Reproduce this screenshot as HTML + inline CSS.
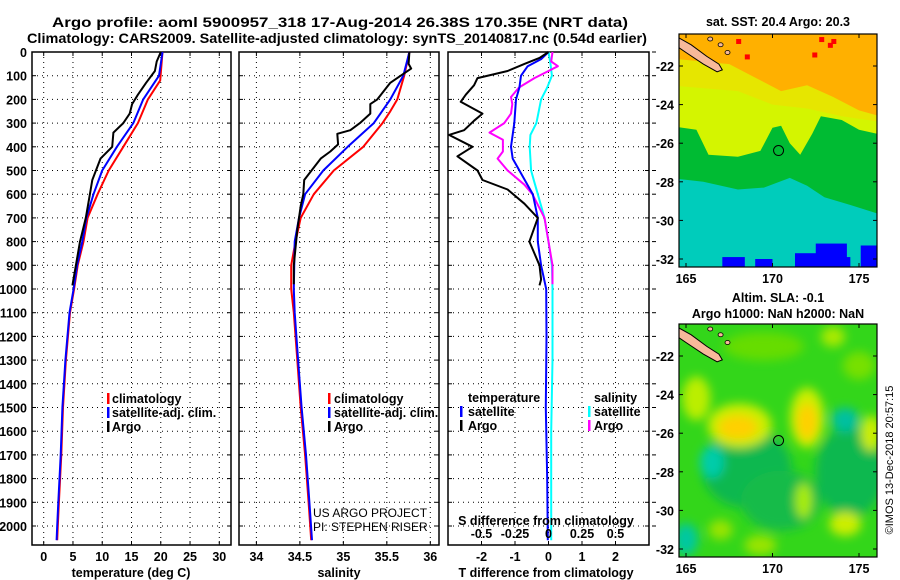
<!DOCTYPE html>
<html><head><meta charset="utf-8"><style>
html,body{margin:0;padding:0;background:#fff;}
svg{display:block;font-family:"Liberation Sans",sans-serif;font-weight:bold;}
</style></head><body>
<svg id="fig" width="900" height="580" viewBox="0 0 900 580" xmlns="http://www.w3.org/2000/svg">
<text x="52" y="27" font-size="13.5" textLength="576" lengthAdjust="spacingAndGlyphs">Argo profile: aoml 5900957_318 17-Aug-2014 26.38S 170.35E (NRT data)</text>
<text x="27" y="43" font-size="13.5" textLength="620" lengthAdjust="spacingAndGlyphs">Climatology: CARS2009. Satellite-adjusted climatology: synTS_20140817.nc (0.54d earlier)</text>
<g id="panels"></g>
<g id="maps"></g>
<text transform="translate(893,460) rotate(-90)" font-size="11" font-weight="normal" text-anchor="middle">©IMOS 13-Dec-2018 20:57:15</text>
</svg>
<script>
// depth axis
const depthTicks=[0,100,200,300,400,500,600,700,800,900,1000,1100,1200,1300,1400,1500,1600,1700,1800,1900,2000];
// temperature (deg C)
const tClimDepth=[0,120,200,300,400,500,600,700,800,900,1000,1100,1300,1500,1700,1900,2000,2060];
const tClim=[20.3,19.9,17.8,16.1,13.6,11.1,9.2,7.5,6.8,5.8,5.2,4.5,3.8,3.3,3.0,2.6,2.4,2.3];
const tSatDepth=[0,100,200,300,400,500,600,700,800,900,1000,1100,1300,1500,1700,1900,2000,2060];
const tSat=[20.3,19.7,17.0,15.3,12.5,10.0,8.5,7.3,6.6,5.7,5.1,4.4,3.7,3.2,2.9,2.5,2.3,2.2];
const tArgoDepth=[0,40,80,130,180,220,260,300,340,400,450,540,600,700,800,900,985];
const tArgo=[20.0,19.3,19.0,17.5,16.1,15.1,14.7,13.6,11.9,11.7,9.7,8.3,7.9,7.2,6.2,5.5,4.9];
// salinity
const sClimDepth=[0,100,200,250,300,400,500,600,700,800,900,1000,1100,1300,1500,1700,1900,2060];
const sClim=[35.76,35.70,35.62,35.54,35.45,35.23,34.89,34.66,34.51,34.45,34.40,34.40,34.43,34.47,34.51,34.56,34.60,34.63];
const sSatDepth=[0,100,200,300,400,500,600,700,800,1000,1100,1300,1500,1700,1900,2060];
const sSat=[35.76,35.69,35.54,35.35,35.05,34.77,34.56,34.49,34.44,34.43,34.44,34.48,34.52,34.57,34.61,34.64];
const sArgoDepth=[0,50,70,100,130,200,220,260,300,330,345,390,420,450,540,600,650,750,900,980];
const sArgo=[35.76,35.75,35.78,35.66,35.54,35.39,35.31,35.31,35.19,35.08,34.93,34.94,34.85,34.74,34.55,34.54,34.51,34.47,34.43,34.43];
// differences
const dTArgoDepth=[0,25,50,80,110,140,180,210,260,290,330,350,400,440,500,540,580,640,700,800,900,960,985];
const dTArgo=[0,-0.27,-0.72,-1.22,-2.12,-2.22,-2.47,-2.62,-1.97,-2.22,-2.52,-2.97,-2.27,-2.72,-2.12,-1.97,-1.22,-0.72,-0.32,-0.57,-0.27,-0.22,-0.27];
const dTSatDepth=[0,30,60,100,150,200,300,400,450,500,600,700,800,900,1000,1200,1500,1800,2060];
const dTSat=[0,-0.22,-0.62,-0.82,-0.87,-0.97,-1.02,-1.12,-1.07,-0.87,-0.47,-0.32,-0.32,-0.22,-0.07,-0.06,-0.08,-0.04,-0.02];
const dSArgoDepth=[0,40,60,80,110,150,190,220,260,300,340,370,420,450,500,560,600,700,800,900,980];
const dSArgo=[0.03,0.02,0.07,0,-0.105,-0.22,-0.28,-0.27,-0.28,-0.33,-0.44,-0.34,-0.34,-0.38,-0.305,-0.18,-0.12,-0.03,0,0.03,0.03];
const dSSatDepth=[0,50,100,150,200,300,350,400,500,550,600,700,800,900,1000,1300,1600,1900,2060];
const dSSat=[0,0.015,0.025,-0.01,-0.055,-0.09,-0.135,-0.14,-0.13,-0.105,-0.08,-0.03,0,0.025,0.03,0.03,0.02,0.02,0.02];
const tTicks=[0,5,10,15,20,25,30];
const sTicks=[34,34.5,35,35.5,36];
const sTickLabels=["34","34.5","35","35.5","36"];
const dTTicks=[-2,-1,0,1,2];
const dSTicks=[-0.5,-0.25,0,0.25,0.5];
const dSTickLabels=["-0.5","-0.25","0","0.25","0.5"];

const NS="http://www.w3.org/2000/svg";
const Y0=52,Y1=545;
function yD(d){return Y0+d*0.237;}
function mk(tag,attrs,parent){const e=document.createElementNS(NS,tag);for(const k in attrs)e.setAttribute(k,attrs[k]);parent.appendChild(e);return e;}
const P=document.getElementById('panels');

function panel(name,x0,x1,vmin,vmax,ticks,labels,yLabels){
  const g=mk('g',{},P);
  
  
  const sx=v=>x0+(v-vmin)/(vmax-vmin)*(x1-x0);
  depthTicks.forEach(d=>{
    if(d>0){const l=mk('line',{x1:x0,x2:x1,y1:yD(d),y2:yD(d),stroke:'#000','stroke-width':1,'stroke-dasharray':'1,4'},g);
    
    }
    mk('line',{x1:x0,x2:x0+4,y1:yD(d),y2:yD(d),stroke:'#000'},g);
    mk('line',{x1:x1,x2:x1-4,y1:yD(d),y2:yD(d),stroke:'#000'},g);
    if(yLabels){const t=mk('text',{x:27,y:yD(d)+5,'font-size':12.5,'text-anchor':'end'},g);t.textContent=d;
    
    }
  });
  ticks.forEach((v,i)=>{
    const X=sx(v);
    const l=mk('line',{x1:X,x2:X,y1:Y0,y2:Y1,stroke:'#000','stroke-dasharray':'1,4'},g);
    
    
    mk('line',{x1:X,x2:X,y1:Y1,y2:Y1-4,stroke:'#000'},g);
    mk('line',{x1:X,x2:X,y1:Y0,y2:Y0+4,stroke:'#000'},g);
    const t=mk('text',{x:X,y:561,'font-size':12.5,'text-anchor':'middle'},g);t.textContent=labels[i];
    
    
  });
  const r=mk('rect',{x:x0,y:Y0,width:x1-x0,height:Y1-Y0,fill:'none',stroke:'#000','stroke-width':1.5},g);
  
  
  return {g,sx};
}
function series(p,depths,vals,color,name,w){
  const pts=depths.map((d,i)=>p.sx(vals[i]).toFixed(1)+','+yD(d).toFixed(1)).join(' ');
  const l=mk('polyline',{points:pts,fill:'none',stroke:color,'stroke-width':w||2,'stroke-linejoin':'round'},p.g);
  
  
}
function txt(g,x,y,s,name,size,anchor,weight){
  const t=mk('text',{x:x,y:y,'font-size':size||12.5,'text-anchor':anchor||'start'},g);
  if(weight)t.setAttribute('font-weight',weight);
  t.textContent=s;
  
  
  return t;
}
function legMark(g,x,y,color,name){
  const r=mk('rect',{x:x,y:y-10,width:2.5,height:11,fill:color},g);
  
  
}

// Panel 1 temperature
const p1=panel('temperature-panel',32,231,-2,32,tTicks,tTicks.map(String),true);
series(p1,tClimDepth,tClim,'#f00','temp-climatology-line');
series(p1,tSatDepth,tSat,'#00f','temp-satellite-line');
series(p1,tArgoDepth,tArgo,'#000','temp-argo-line');
[['#f00','climatology'],['#00f','satellite-adj. clim.'],['#000','Argo']].forEach((e,i)=>{
  legMark(p1.g,107,403+i*14,e[0],'legend-mark');
  txt(p1.g,112,403+i*14,e[1],'legend-entry',12.5);
});
txt(p1.g,131,577,'temperature (deg C)','x-axis-title',12.5,'middle');

// Panel 2 salinity
const p2=panel('salinity-panel',239,439,33.8,36.1,sTicks,sTickLabels,false);
series(p2,sClimDepth,sClim,'#f00','sal-climatology-line');
series(p2,sSatDepth,sSat,'#00f','sal-satellite-line');
series(p2,sArgoDepth,sArgo,'#000','sal-argo-line');
[['#f00','climatology'],['#00f','satellite-adj. clim.'],['#000','Argo']].forEach((e,i)=>{
  legMark(p2.g,328,403+i*14,e[0],'legend-mark');
  txt(p2.g,334,403+i*14,e[1],'legend-entry',12.5);
});
txt(p2.g,313,517,'US ARGO PROJECT','project-label',12,'start','normal');
txt(p2.g,313,531,'PI: STEPHEN RISER','pi-label',12,'start','normal');
txt(p2.g,339,577,'salinity','x-axis-title',12.5,'middle');

// Panel 3 differences
const p3=panel('difference-panel',448,649,-3,3,dTTicks,dTTicks.map(String),false);
const sScale=4; // S axis: 0.25 S per 1 T unit
series(p3,dSSatDepth,dSSat.map(v=>v*sScale),'#0ff','sal-diff-satellite-line');
series(p3,dSArgoDepth,dSArgo.map(v=>v*sScale),'#f0f','sal-diff-argo-line');
series(p3,dTSatDepth,dTSat,'#00f','temp-diff-satellite-line');
series(p3,dTArgoDepth,dTArgo,'#000','temp-diff-argo-line');
depthTicks.forEach(d=>{mk('line',{x1:652,x2:656,y1:yD(d),y2:yD(d),stroke:'#000'},p3.g);});
txt(p3.g,468,402,'temperature','legend-title-temp',12.5);
legMark(p3.g,460,416,'#00f','legend-mark');txt(p3.g,468,416,'satellite','legend-entry',12.5);
legMark(p3.g,460,430,'#000','legend-mark');txt(p3.g,468,430,'Argo','legend-entry',12.5);
txt(p3.g,594,402,'salinity','legend-title-sal',12.5);
legMark(p3.g,588,416,'#0ff','legend-mark');txt(p3.g,594,416,'satellite','legend-entry',12.5);
legMark(p3.g,588,430,'#f0f','legend-mark');txt(p3.g,594,430,'Argo','legend-entry',12.5);
txt(p3.g,546,525,'S difference from climatology','s-axis-title',12.5,'middle');
dSTicks.forEach((v,i)=>{txt(p3.g,p3.sx(v*sScale),538,dSTickLabels[i],'s-tick-label',12.5,'middle');});
txt(p3.g,546,577,'T difference from climatology','x-axis-title',12.5,'middle');

// Maps
const M=document.getElementById('maps');
const defs=mk('defs',{},M);
const f=mk('filter',{id:'blur',x:'-50%',y:'-50%',width:'200%',height:'200%'},defs);
mk('feGaussianBlur',{stdDeviation:5},f);
function mapFrame(top,name){
  const g=mk('g',{},M);
  
  
  const X0=679,X1=877,Yt=top,Yb=top+233;
  const lx=lon=>686+(lon-165)*17.3, ly=lat=>(top+32)+(-22-lat)*19.3;
  const cp=mk('clipPath',{id:name+'-clip'},defs);mk('rect',{x:X0,y:Yt,width:X1-X0,height:Yb-Yt},cp);
  const inner=mk('g',{'clip-path':'url(#'+name+'-clip)'},g);
  return {g,inner,lx,ly,X0,X1,Yt,Yb};
}
function poly(m,pts,fill,name,extra){
  const p=mk('polygon',Object.assign({points:pts.map(q=>m.lx(q[0]).toFixed(1)+','+m.ly(q[1]).toFixed(1)).join(' '),fill:fill},extra||{}),m.inner);
  
  
}
function finishMap(m){
  const r=mk('rect',{x:m.X0,y:m.Yt,width:m.X1-m.X0,height:m.Yb-m.Yt,fill:'none',stroke:'#000','stroke-width':1.2},m.g);
  
  poly(m,[[164.5,-20.5],[165.3,-20.9],[166.2,-21.5],[166.9,-21.9],[167.1,-22.2],[166.8,-22.3],[166.0,-21.9],[165.0,-21.3],[164.5,-21.0]],'#f7b99a','island',{stroke:'#000','stroke-width':1});
  [[166.4,-20.6],[167.0,-20.9],[167.4,-21.3]].forEach(q=>{
    const e=mk('ellipse',{cx:m.lx(q[0]),cy:m.ly(q[1]),rx:2.5,ry:2,fill:'#f7b99a',stroke:'#000','stroke-width':0.8},m.inner);
    
  });
  const c=mk('circle',{cx:m.lx(170.35),cy:m.ly(-26.38),r:5,fill:'none',stroke:'#000','stroke-width':1},m.g);
  
  [-22,-24,-26,-28,-30,-32].forEach(l=>{
    const Y=m.ly(l);
    mk('line',{x1:m.X0,x2:m.X0+4,y1:Y,y2:Y,stroke:'#000'},m.g);
    mk('line',{x1:m.X1,x2:m.X1-4,y1:Y,y2:Y,stroke:'#000'},m.g);
    txt(m.g,m.X0-5,Y+5,String(l),'lat-tick-label',12.5,'end');
  });
  [165,170,175].forEach(l=>{
    const X=m.lx(l);
    mk('line',{x1:X,x2:X,y1:m.Yt,y2:m.Yt+4,stroke:'#000'},m.g);
    mk('line',{x1:X,x2:X,y1:m.Yb,y2:m.Yb-4,stroke:'#000'},m.g);
    txt(m.g,X,m.Yb+16,String(l),'lon-tick-label',12.5,'middle');
  });
}
// SST map
const m1=mapFrame(34,'sst-map');
txt(M,778,26,'sat. SST: 20.4 Argo: 20.3','sst-map-title',12.5,'middle');
mk('rect',{x:679,y:34,width:198,height:233,fill:'#ffb000'},m1.inner);
poly(m1,[[164,-21.6],[167.5,-21.9],[169,-22.6],[170.5,-23.3],[172,-23.0],[173.5,-23.6],[175,-24.3],[177,-24.8],[177,-34],[164,-34]],'#e6e600','sst-yellow-band');
poly(m1,[[164,-23.0],[168,-23.3],[170,-24.0],[172,-24.2],[174,-24.6],[177,-25.0],[177,-34],[164,-34]],'#d4f500','sst-lime-band');
poly(m1,[[164,-25.1],[165.6,-25.3],[166.3,-26.6],[168,-26.7],[169.3,-26.4],[170.0,-25.2],[170.5,-25.1],[171.0,-26.0],[171.6,-26.6],[172.3,-25.5],[172.8,-24.6],[174,-24.8],[175,-25.3],[177,-25.7],[177,-34],[164,-34]],'#00bb33','sst-green-band');
poly(m1,[[164,-27.8],[166,-28.0],[168,-28.4],[169.5,-28.3],[171,-27.8],[172,-28.2],[173,-28.8],[174.5,-29.2],[177,-29.9],[177,-34],[164,-34]],'#00ccbb','sst-teal-band');
[[167.1,-31.9,1.3,0.6],[169.0,-32.0,1.0,0.5],[171.3,-31.7,1.3,0.8],[172.5,-31.2,1.8,1.3],[173.5,-31.9,1.0,0.5],[175.1,-31.3,1.0,1.2]].forEach(b=>{
  const r=mk('rect',{x:m1.lx(b[0]),y:m1.ly(b[1]),width:b[2]*17.3,height:b[3]*19.3+10,fill:'#0000ff'},m1.inner);
  
});
[[172.7,-20.5],[173.2,-20.8],[173.4,-20.6],[172.3,-21.3],[168.4,-21.4],[167.9,-20.6]].forEach(q=>{
  const r=mk('rect',{x:m1.lx(q[0]),y:m1.ly(q[1]),width:5,height:5,fill:'#f00'},m1.inner);
  
});
finishMap(m1);

// SLA map
const m2=mapFrame(324,'sla-map');
txt(M,778,302,'Altim. SLA: -0.1','sla-map-title',12.5,'middle');
txt(M,778,318,'Argo h1000: NaN h2000: NaN','sla-map-subtitle',12.5,'middle');
mk('rect',{x:679,y:324,width:198,height:233,fill:'#33d61a'},m2.inner);
const bl=mk('g',{filter:'url(#blur)'},m2.inner);


[[168.5,-27.8,45,40,'#10b850'],[174.5,-28,35,45,'#10b850'],[170.5,-29.5,40,30,'#18bb48'],[166.5,-27.5,12,16,'#00ccaa'],[174.2,-25.3,14,12,'#00c0a0'],[165,-31.5,12,16,'#00c8a0'],
 [169.5,-21.5,40,14,'#66dd00'],[175,-22.5,16,14,'#77e000'],
 [165.6,-24.2,14,22,'#bbee00'],[168.1,-25.6,32,22,'#ccee00'],[168,-25.7,20,12,'#ffd000'],[172,-25.2,17,30,'#ccee00'],[172,-25.4,10,18,'#ffd000'],
 [175.7,-26,10,18,'#ccee00'],[174.2,-30.7,16,12,'#ccee00'],[171.8,-29.5,8,18,'#aaee00'],[173.5,-21.0,12,10,'#aaea00'],[167,-31,12,10,'#99e400'],[169.3,-31.8,16,10,'#99e400']
].forEach(b=>{mk('ellipse',{cx:m2.lx(b[0]),cy:m2.ly(b[1]),rx:b[2],ry:b[3],fill:b[4]},bl);});
finishMap(m2);
</script>
</body></html>
